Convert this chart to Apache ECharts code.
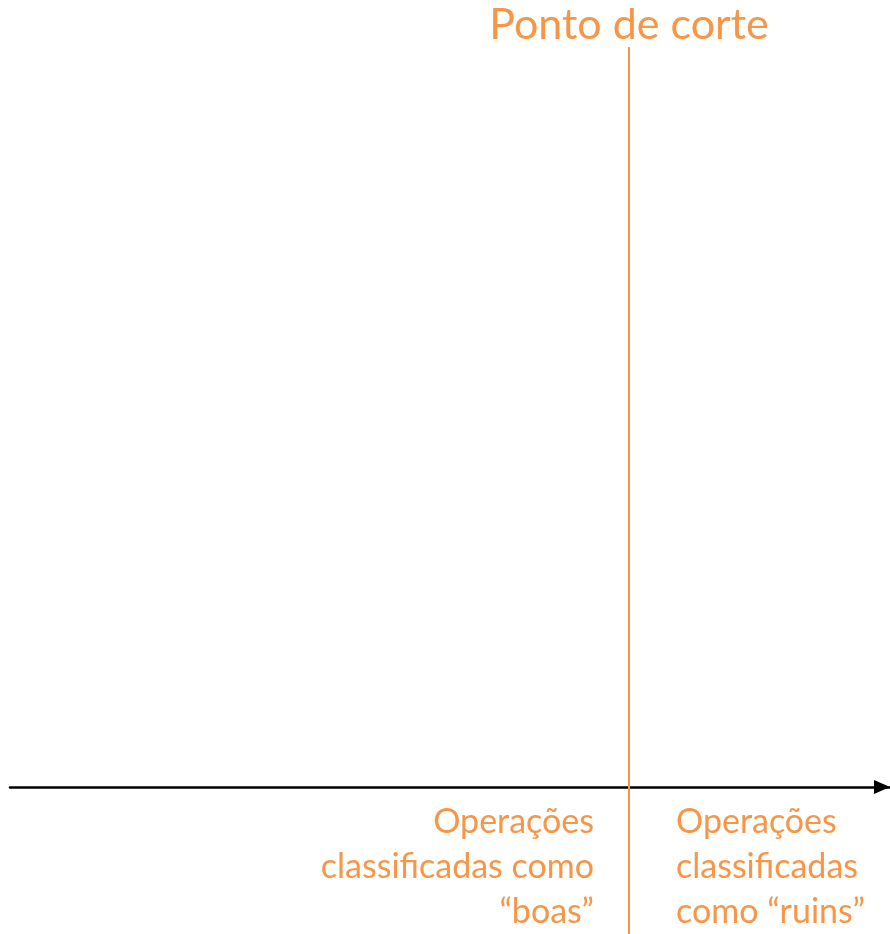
<!DOCTYPE html>
<html><head><meta charset="utf-8">
<script src="https://cdn.jsdelivr.net/npm/echarts@6/dist/echarts.min.js"></script>
<style>html,body{margin:0;padding:0;background:#fff}#c{width:890px;height:934px}</style>
</head><body><div id="c"></div>
<script>
const xRange = [0, 100];
const cutoff = 70.34;
const cutoffLabel = 'Ponto de corte';
const leftText = ['Operações', 'classificadas como', '“boas”'];
const rightText = ['Operações', 'classificadas', 'como “ruins”'];
const ORANGE = '#F79646';
const FONT = 'Lato, "Open Sans", sans-serif';

const chart = echarts.init(document.getElementById('c'));
chart.setOption({
  backgroundColor: '#fff',
  animation: false,
  grid: { left: 10, right: 0, top: 47, bottom: 0 },
  xAxis: {
    type: 'value', min: xRange[0], max: xRange[1],
    axisLine: { onZero: true, symbol: ['none', 'triangle'], symbolSize: [14, 16], symbolOffset: [0, -8], lineStyle: { color: '#000', width: 2.5 } },
    axisTick: { show: false }, axisLabel: { show: false }, splitLine: { show: false }
  },
  yAxis: {
    type: 'value', min: -147, max: 740, show: false,
    axisLine: { show: false }, splitLine: { show: false }
  },
  series: [{
    type: 'line', data: [], silent: true,
    markLine: {
      silent: true, symbol: 'none',
      lineStyle: { color: ORANGE, width: 2, type: 'solid' },
      label: { show: true, position: 'end', formatter: cutoffLabel, color: ORANGE, fontSize: 43, fontFamily: FONT, distance: 0 },
      data: [{ xAxis: cutoff }]
    }
  }],
  graphic: [
    { type: 'text', x: 594, y: 800, style: { text: leftText.join('\n'), align: 'right', verticalAlign: 'top', fill: ORANGE, font: '34px ' + FONT, lineHeight: 45 } },
    { type: 'text', x: 676, y: 800, style: { text: rightText.join('\n'), align: 'left', verticalAlign: 'top', fill: ORANGE, font: '34px ' + FONT, lineHeight: 45 } }
  ]
});
</script></body></html>
